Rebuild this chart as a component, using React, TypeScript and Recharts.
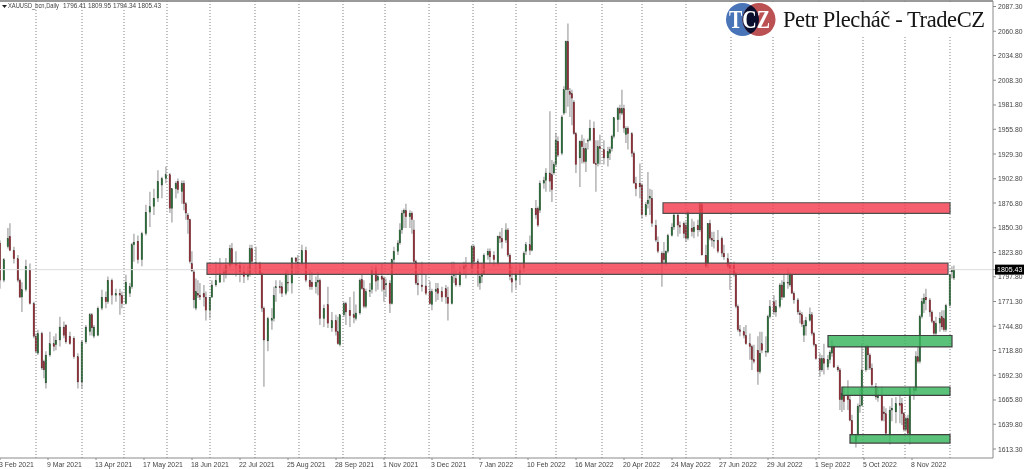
import React from 'react';
import { ComposedChart, Bar, XAxis, YAxis, ReferenceLine, ReferenceArea } from 'recharts';

// [trading day, open, high, low, close]
const febJun2021 = [
  [0,1834,1837,1785,1794],[2,1794,1818,1792,1816],[4,1830,1850,1828,1839],[5,1841,1855,1825,1826],
  [7,1826,1830,1812,1817],[9,1817,1821,1792,1794],[10,1794,1796,1775,1776],[11,1776,1792,1760,1784],
  [13,1784,1816,1782,1809],[15,1805,1812,1768,1769],[17,1769,1771,1732,1734],[18,1734,1737,1716,1718],
  [19,1716,1741,1714,1737],[21,1737,1739,1698,1700],[22,1707,1709,1689,1698],[23,1684,1718,1678,1714],
  [25,1714,1739,1712,1726],[27,1726,1734,1718,1723],[28,1725,1737,1719,1730],[30,1730,1755,1723,1744],
  [32,1744,1750,1732,1735],[33,1746,1747,1726,1728],[35,1734,1739,1725,1726],[37,1732,1734,1710,1712],
  [39,1712,1716,1678,1685],[41,1685,1730,1678,1728],[43,1728,1746,1726,1744],[45,1739,1759,1735,1757],
  [46,1757,1759,1735,1743],[47,1734,1746,1732,1744],[49,1735,1766,1734,1764],[51,1764,1784,1762,1776],
  [53,1776,1782,1764,1771],[54,1771,1798,1769,1794],[56,1794,1796,1768,1778],[58,1778,1785,1771,1780],
  [60,1780,1785,1757,1778],[61,1778,1782,1764,1769],[63,1769,1800,1768,1792],[65,1780,1791,1776,1787],
  [66,1787,1834,1785,1832],[67,1832,1844,1814,1835],[69,1836,1842,1812,1816],[71,1816,1846,1809,1844],
  [73,1844,1875,1842,1867],[75,1867,1889,1851,1873],[77,1873,1892,1864,1882],[79,1882,1912,1878,1900],
];
const junOct2021 = [
  [81,1896,1905,1882,1903],[83,1903,1916,1898,1907],[85,1907,1909,1866,1871],[86,1871,1893,1856,1892],
  [88,1892,1900,1882,1898],[89,1900,1903,1887,1891],[91,1889,1901,1876,1898],[92,1898,1901,1869,1876],
  [93,1876,1878,1859,1866],[94,1864,1866,1844,1859],[95,1859,1860,1812,1814],[96,1812,1825,1803,1804],
  [97,1803,1805,1764,1773],[98,1764,1796,1762,1782],[99,1780,1794,1775,1778],[100,1778,1791,1773,1776],
  [102,1780,1789,1766,1776],[103,1776,1782,1751,1762],[105,1762,1776,1753,1776],[106,1776,1794,1775,1789],
  [108,1789,1814,1787,1794],[110,1792,1818,1791,1801],[112,1801,1807,1792,1803],[113,1801,1818,1796,1810],
  [115,1810,1832,1807,1828],[116,1828,1834,1810,1812],[118,1812,1825,1798,1810],[120,1810,1814,1792,1803],
  [122,1803,1810,1791,1798],[124,1798,1809,1794,1800],[125,1800,1832,1798,1828],[126,1828,1832,1812,1814],
  [128,1813,1830,1800,1812],[130,1812,1814,1800,1801],[131,1801,1803,1760,1764],[132,1764,1766,1680,1730],
  [134,1729,1755,1718,1753],[136,1751,1764,1741,1753],[137,1753,1787,1750,1778],[138,1786,1794,1771,1787],
  [140,1787,1794,1780,1786],[141,1787,1792,1776,1780],[143,1780,1805,1778,1801],[144,1792,1805,1782,1791],
  [146,1791,1819,1780,1818],[148,1818,1819,1800,1814],[149,1813,1821,1801,1812],[151,1812,1832,1810,1826],
  [153,1826,1830,1792,1794],[155,1794,1805,1784,1787],[156,1792,1803,1784,1787],[158,1787,1798,1780,1792],
  [159,1792,1803,1778,1794],
];
const octFeb2022 = [
  [160,1794,1796,1746,1753],[162,1753,1768,1744,1764],[164,1768,1787,1743,1748],[166,1743,1760,1739,1751],
  [168,1751,1757,1735,1739],[169,1739,1755,1725,1726],[170,1725,1757,1723,1757],[172,1757,1771,1755,1769],
  [173,1769,1771,1746,1760],[175,1762,1776,1744,1756],[177,1757,1782,1748,1754],[178,1753,1768,1751,1759],
  [180,1759,1796,1757,1794],[181,1795,1800,1784,1785],[182,1785,1794,1764,1766],[183,1766,1785,1764,1782],
  [185,1782,1791,1776,1783],[186,1784,1809,1780,1805],[188,1807,1810,1782,1793],[189,1794,1800,1784,1798],
  [191,1798,1812,1782,1795],[192,1796,1798,1771,1784],[193,1789,1796,1776,1791],[195,1791,1794,1759,1769],
  [196,1769,1817,1768,1816],[197,1816,1830,1812,1825],[199,1825,1837,1821,1834],[200,1834,1855,1832,1848],
  [201,1848,1869,1844,1866],[202,1866,1871,1850,1869],[203,1869,1876,1850,1862],[205,1862,1869,1850,1866],
  [206,1866,1868,1844,1859],[207,1848,1859,1812,1814],[208,1814,1816,1789,1791],[209,1791,1800,1778,1789],
  [211,1789,1814,1782,1787],[213,1788,1800,1778,1780],[215,1782,1793,1768,1769],[216,1768,1785,1762,1782],
  [218,1782,1791,1771,1784],[219,1785,1791,1773,1780],[221,1782,1787,1771,1776],[223,1785,1789,1769,1776],
  [224,1776,1787,1751,1769],[226,1769,1814,1768,1798],[227,1800,1814,1791,1800],[228,1796,1805,1787,1789],
  [230,1789,1809,1787,1803],[232,1805,1814,1800,1809],[233,1810,1819,1796,1809],[236,1807,1832,1800,1830],
  [237,1830,1832,1809,1814],[239,1814,1817,1787,1801],
  [240,1791,1801,1784,1798],[241,1798,1812,1791,1801],[242,1801,1823,1800,1821],[244,1821,1828,1816,1825],
  [245,1825,1828,1812,1819],[247,1821,1825,1809,1816],[249,1812,1842,1810,1841],[250,1841,1846,1834,1839],
  [251,1839,1850,1828,1835],[253,1837,1855,1834,1848],[254,1848,1850,1819,1821],[255,1821,1823,1794,1798],
  [256,1796,1809,1781,1792],[258,1794,1809,1785,1801],[260,1801,1812,1789,1805],[262,1807,1825,1803,1823],
  [263,1825,1835,1821,1832],[265,1832,1842,1821,1826],[266,1826,1871,1825,1871],[268,1871,1880,1860,1864],
  [269,1871,1873,1851,1853],
];
const febJun2022 = [
  [270,1869,1901,1866,1898],[272,1898,1905,1892,1901],[273,1901,1914,1889,1909],[275,1909,1975,1889,1900],
  [276,1907,1923,1878,1891],[277,1909,1921,1907,1918],[278,1918,1952,1916,1944],[279,1943,1948,1926,1928],
  [281,1930,1971,1928,1969],[282,1973,2002,1971,1998],[283,1998,2051,1973,2050],[284,2050,2069,1980,1998],
  [285,1996,2000,1969,1993],[286,1994,1998,1960,1989],[287,1985,1987,1950,1951],[288,1951,1953,1909,1918],
  [290,1925,1944,1894,1943],[291,1943,1950,1919,1937],[292,1935,1946,1919,1921],[293,1921,1941,1910,1935],
  [294,1943,1946,1934,1944],[295,1944,1966,1943,1957],[297,1957,1964,1919,1919],[298,1919,1944,1889,1918],
  [299,1919,1944,1916,1937],[300,1937,1950,1918,1935],[302,1934,1944,1918,1925],[304,1925,1937,1916,1932],
  [305,1930,1937,1923,1934],[306,1935,1950,1932,1948],[307,1948,1969,1946,1968],[309,1966,1980,1953,1978],
  [310,1978,1982,1966,1973],[311,1973,1998,1971,1978],[312,1978,1982,1952,1957],[313,1950,1959,1941,1957],
  [314,1957,1959,1934,1951],[316,1951,1953,1926,1930],[317,1930,1932,1898,1898],[318,1898,1905,1884,1892],
  [320,1898,1919,1882,1894],[321,1896,1898,1860,1864],[323,1864,1878,1862,1875],[324,1876,1910,1871,1880],
  [325,1882,1892,1864,1884],[326,1882,1891,1851,1855],[328,1853,1859,1835,1837],[329,1835,1841,1823,1825],
  [331,1823,1825,1787,1812],[332,1823,1835,1812,1816],[333,1812,1826,1810,1825],[334,1825,1844,1823,1842],
  [336,1842,1855,1841,1851],[337,1851,1866,1848,1864],[339,1864,1866,1841,1853],
  [340,1853,1857,1844,1851],[342,1855,1857,1839,1844],[343,1853,1857,1835,1839],[344,1839,1869,1837,1867],
  [346,1850,1860,1841,1846],[347,1846,1857,1839,1851],[349,1853,1859,1841,1848],[350,1848,1878,1846,1875],
  [351,1875,1877,1821,1821],[353,1821,1832,1807,1809],[354,1812,1855,1807,1855],[355,1855,1859,1837,1839],
  [356,1839,1846,1830,1837],[357,1837,1846,1828,1837],[359,1837,1848,1823,1825],[361,1839,1841,1819,1823],
  [362,1823,1832,1816,1819],[364,1817,1823,1807,1809],[365,1810,1814,1784,1807],[367,1810,1814,1798,1801],
  [368,1801,1803,1764,1766],
];
const junNov2022 = [
  [369,1766,1768,1739,1741],[370,1741,1746,1734,1739],[372,1739,1744,1732,1735],[373,1735,1746,1725,1726],
  [375,1726,1737,1709,1723],[376,1723,1725,1698,1709],[377,1709,1725,1705,1707],[379,1719,1734,1682,1696],
  [380,1696,1739,1694,1716],[381,1726,1739,1716,1719],[383,1717,1734,1712,1718],[384,1717,1757,1716,1755],
  [385,1755,1773,1753,1766],[387,1771,1778,1757,1760],[388,1760,1773,1755,1766],[390,1766,1791,1764,1789],
  [391,1789,1794,1773,1776],[392,1776,1800,1775,1792],[394,1792,1807,1785,1791],[395,1789,1803,1787,1800],
  [396,1800,1801,1780,1780],[397,1780,1782,1769,1773],[399,1773,1775,1757,1760],[400,1759,1762,1748,1757],
  [401,1757,1760,1744,1747],[402,1735,1751,1728,1746],[403,1745,1755,1735,1751],[405,1751,1765,1750,1757],
  [406,1757,1760,1735,1737],[407,1737,1739,1723,1725],[408,1725,1726,1709,1710],[410,1710,1716,1691,1698],
  [411,1698,1714,1696,1710],[412,1710,1726,1693,1705],[414,1701,1714,1698,1709],[415,1709,1719,1705,1717],
  [416,1716,1730,1712,1723],[417,1723,1725,1700,1701],[419,1701,1703,1696,1698],[420,1698,1700,1655,1666],
  [421,1666,1680,1653,1673],[422,1671,1680,1655,1664],[424,1671,1687,1655,1666],[425,1666,1671,1643,1644],
  [426,1644,1650,1628,1628],[428,1621,1628,1615,1628],[429,1628,1662,1626,1659],[430,1660,1678,1652,1660],
  [431,1660,1726,1659,1698],[433,1698,1725,1696,1723],[434,1723,1725,1698,1714],[435,1714,1716,1698,1700],
  [436,1700,1705,1680,1682],[438,1680,1684,1666,1669],[439,1668,1680,1664,1671],[441,1671,1680,1643,1644],
  [442,1653,1659,1643,1651],[443,1651,1657,1628,1630],[445,1628,1659,1618,1655],[446,1655,1668,1643,1657],
  [448,1653,1669,1641,1662],[450,1662,1671,1641,1660],[451,1662,1668,1639,1651],[452,1651,1653,1632,1634],
  [453,1634,1648,1632,1646],[454,1646,1650,1628,1630],[455,1629,1680,1618,1678],[457,1678,1680,1666,1676],
  [458,1676,1718,1675,1712],[459,1712,1723,1705,1707],[460,1707,1757,1705,1755],[461,1755,1775,1753,1771],
  [462,1769,1780,1759,1775],[463,1776,1785,1762,1773],[465,1773,1775,1755,1760],[466,1760,1762,1748,1750],
  [467,1750,1751,1735,1737],[468,1737,1755,1735,1748],[470,1748,1760,1739,1753],[471,1755,1762,1741,1744],
  [472,1753,1762,1739,1741],[473,1741,1769,1739,1767],[475,1767,1801,1766,1800],[476,1803,1809,1796,1805],
  [477,1796.41,1809.95,1794.34,1805.43],
];

const priceTicks = [2087.3,2060.8,2034.8,2008.3,1981.8,1955.8,1929.3,1902.8,1876.8,1850.3,1823.8,1805.43,1797.8,1771.3,1744.8,1718.8,1692.3,1665.8,1639.8,1613.3];
const dateLabels = ['3 Feb 2021','9 Mar 2021','13 Apr 2021','17 May 2021','18 Jun 2021','22 Jul 2021','25 Aug 2021','28 Sep 2021','1 Nov 2021','3 Dec 2021','7 Jan 2022','10 Feb 2022','16 Mar 2022','20 Apr 2022','24 May 2022','27 Jun 2022','29 Jul 2022','1 Sep 2022','5 Oct 2022','8 Nov 2022'];
const dateTicks = dateLabels.map((_, i) => i * 24);
const separatorDays = [18,41,62,83.5,105,127.5,149.5,171.5,192.5,214.5,236.5,258,278,301,321,343,365.5,386.5,409.5,431.5,452.5,475];
const lastPrice = 1805.43;

// [from day, to day, low price, high price]
const resistanceZones = [[103.5,474,1800.4,1812.5],[331.5,475,1865.8,1877.1]];
const supportZones = [[414,476,1722.6,1734.9],[421,475,1670.8,1679.7],[425,475,1619.7,1628.8]];

const bars = [...febJun2021, ...junOct2021, ...octFeb2022, ...febJun2022, ...junNov2022].map(([day, o, h, l, c]) => ({
  day, o, h, l, c, range: [l, h],
}));

const axisFont = '"Liberation Sans", sans-serif';

const Candle = (props: any) => {
  const { x, y, width, height, payload } = props;
  const { o, h, l, c } = payload;
  const k = height / (h - l);
  const top = y + (h - Math.max(o, c)) * k;
  const bodyH = Math.max(Math.abs(o - c) * k, 1);
  const mid = x + width / 2;
  return (
    <g>
      <line x1={mid} x2={mid} y1={y} y2={y + height} stroke="#b8b8b8" strokeWidth={1.6} />
      <rect x={x} y={top} width={width} height={bodyH} fill={c >= o ? '#2b6f3a' : '#933039'} stroke="#444" strokeWidth={0.2} />
    </g>
  );
};

const PriceTick = ({ x, y, payload }: any) => {
  if (payload.value === lastPrice) {
    return (
      <g>
        <rect x={x - 3} y={y - 5} width={30} height={10} fill="#000" />
        <text x={x - 1} y={y + 2.8} fontSize={7} fontFamily={axisFont} fill="#fff">{payload.value.toFixed(2)}</text>
      </g>
    );
  }
  return <text x={x} y={y + 2.5} fontSize={6.8} fontFamily={axisFont} fill="#444">{payload.value.toFixed(2)}</text>;
};

const DateTick = ({ x, y, payload }: any) => (
  <text x={x - 1} y={y + 5} fontSize={6.9} fontFamily={axisFont} fill="#444">{dateLabels[payload.value / 24]}</text>
);

const Header = () => (
  <svg width={1024} height={469} style={{ position: 'absolute', left: 0, top: 0, pointerEvents: 'none' }}>
    <defs>
      <clipPath id="blueDisc"><circle cx={742.5} cy={19.5} r={16.5} /></clipPath>
    </defs>
    <path d="M2 5 h5 l-2.5 3 z" fill="#222" />
    <text x={8} y={8} fontSize={6.6} fontFamily={axisFont} fill="#444" textLength={51} lengthAdjust="spacingAndGlyphs">XAUUSD_bcn,Daily</text>
    <text x={63} y={8} fontSize={6.6} fontFamily={axisFont} fill="#444" textLength={98} lengthAdjust="spacingAndGlyphs">1796.41 1809.95 1794.34 1805.43</text>
    <rect x={722} y={2} width={269} height={35} fill="#fff" />
    <circle cx={742.5} cy={19.5} r={16.5} fill="#4a74b8" />
    <circle cx={759} cy={19.5} r={16.5} fill="#bb5152" />
    <circle cx={759} cy={19.5} r={16.5} fill="#0b0d2c" clipPath="url(#blueDisc)" />
    <text x={729} y={28} fontSize={25} fontFamily='"Liberation Serif", serif' fontWeight="bold" fill="#fff" textLength={41} lengthAdjust="spacingAndGlyphs">TCZ</text>
    <text x={783} y={27} fontSize={22.5} fontFamily='"Liberation Serif", serif' fill="#151515" textLength={202} lengthAdjust="spacing">Petr Plecháč - TradeCZ</text>
  </svg>
);

const App: React.FC = () => (
  <div style={{ position: 'absolute', left: 0, top: 0, width: 1024, height: 469, background: '#fff', filter: 'blur(0.35px)' }}>
    <ComposedChart width={1024} height={469} data={bars} margin={{ top: 1, right: 0, bottom: 0, left: 0 }}>
      <XAxis
        dataKey="day"
        type="number"
        domain={[0, 496.5]}
        allowDataOverflow
        ticks={dateTicks}
        interval={0}
        height={11}
        tickSize={2}
        stroke="#8a8a8a"
        tick={<DateTick />}
      />
      <YAxis
        orientation="right"
        type="number"
        domain={[1603.66, 2093.2]}
        allowDataOverflow
        ticks={priceTicks}
        interval={0}
        width={31}
        tickSize={3}
        stroke="#8a8a8a"
        tick={<PriceTick />}
      />
      <ReferenceLine y={2093.2} stroke="#9a9a9a" strokeWidth={2} />
      <ReferenceLine y={lastPrice} stroke="#dcdcdc" />
      {separatorDays.map((d) => (
        <ReferenceLine key={d} x={d} stroke="#808080" strokeDasharray="1 2" />
      ))}
      <Bar dataKey="range" barSize={3.4} isAnimationActive={false} shape={<Candle />} />
      {resistanceZones.map(([x1, x2, y1, y2]) => (
        <ReferenceArea key={y1} x1={x1} x2={x2} y1={y1} y2={y2} zIndex={1000} fill="#f43c4e" fillOpacity={0.82} stroke="#505050" strokeWidth={1.2} />
      ))}
      {supportZones.map(([x1, x2, y1, y2]) => (
        <ReferenceArea key={y1} x1={x1} x2={x2} y1={y1} y2={y2} zIndex={1000} fill="#36b45c" fillOpacity={0.82} stroke="#404040" strokeWidth={1.2} />
      ))}
    </ComposedChart>
    <Header />
  </div>
);

export default App;
